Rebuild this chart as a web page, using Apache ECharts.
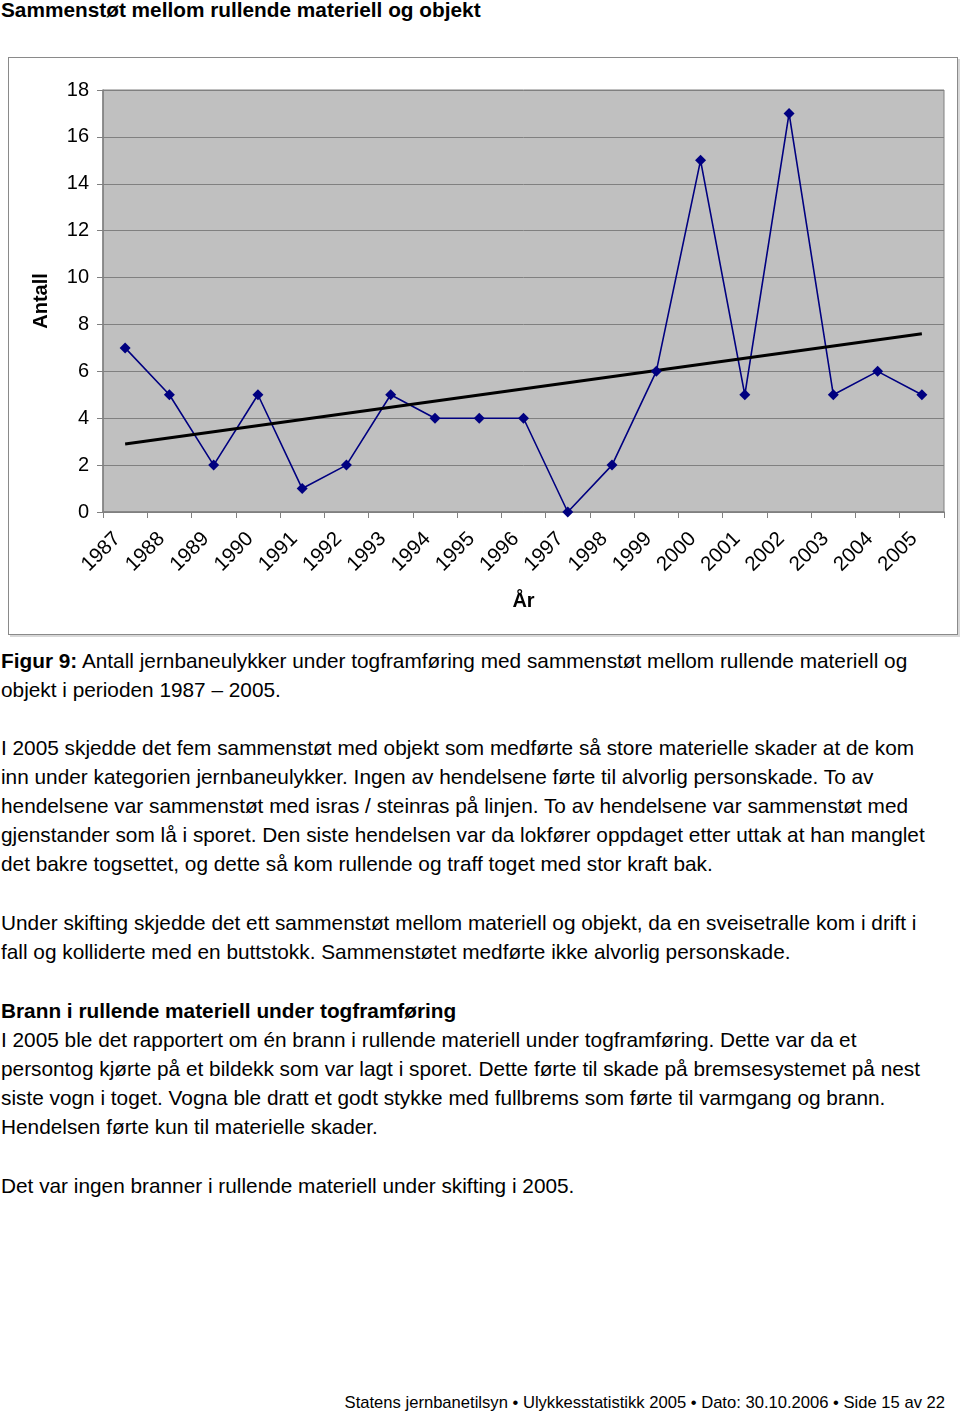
<!DOCTYPE html>
<html>
<head>
<meta charset="utf-8">
<script src="https://cdn.jsdelivr.net/npm/echarts@6/dist/echarts.min.js"></script>
<style>
  body { margin: 0; width: 960px; height: 1416px; background: #fff; font-family: "Liberation Sans", Arial, sans-serif; color: #000; position: relative; }
  .t { position: absolute; left: 1px; font-size: 20.8px; line-height: 29px; white-space: nowrap; }
  #title { top: -5px; font-weight: bold; }
  #chartbox { position: absolute; left: 8px; top: 57px; width: 948px; height: 576px; border: 1px solid #8a8a8a; box-shadow: 2px 2px 0 #d8d8d8; }
  #main { width: 948px; height: 576px; }
  #footer { position: absolute; right: 15px; top: 1393px; font-size: 16.6px; white-space: nowrap; }
</style>
</head>
<body>
<div class="t" id="title">Sammenstøt mellom rullende materiell og objekt</div>
<div id="chartbox"><div id="main"></div></div>

<div class="t" style="top:646px"><b>Figur 9:</b> Antall jernbaneulykker under togframføring med sammenstøt mellom rullende materiell og<br>objekt i perioden 1987 – 2005.</div>

<div class="t" style="top:733px">I 2005 skjedde det fem sammenstøt med objekt som medførte så store materielle skader at de kom<br>inn under kategorien jernbaneulykker. Ingen av hendelsene førte til alvorlig personskade. To av<br>hendelsene var sammenstøt med isras / steinras på linjen. To av hendelsene var sammenstøt med<br>gjenstander som lå i sporet. Den siste hendelsen var da lokfører oppdaget etter uttak at han manglet<br>det bakre togsettet, og dette så kom rullende og traff toget med stor kraft bak.</div>

<div class="t" style="top:908px">Under skifting skjedde det ett sammenstøt mellom materiell og objekt, da en sveisetralle kom i drift i<br>fall og kolliderte med en buttstokk. Sammenstøtet medførte ikke alvorlig personskade.</div>

<div class="t" style="top:996px"><b>Brann i rullende materiell under togframføring</b><br>I 2005 ble det rapportert om én brann i rullende materiell under togframføring. Dette var da et<br>persontog kjørte på et bildekk som var lagt i sporet. Dette førte til skade på bremsesystemet på nest<br>siste vogn i toget. Vogna ble dratt et godt stykke med fullbrems som førte til varmgang og brann.<br>Hendelsen førte kun til materielle skader.</div>

<div class="t" style="top:1171px">Det var ingen branner i rullende materiell under skifting i 2005.</div>

<div id="footer">Statens jernbanetilsyn • Ulykkesstatistikk 2005 • Dato: 30.10.2006 • Side 15 av 22</div>

<script>
var years = ['1987','1988','1989','1990','1991','1992','1993','1994','1995','1996','1997','1998','1999','2000','2001','2002','2003','2004','2005'];
var antall = [7, 5, 2, 5, 1, 2, 5, 4, 4, 4, 0, 2, 6, 15, 5, 17, 5, 6, 5];
// trendline end values
var trendStart = 2.9;
var trendEnd = 7.6;

var trend = years.map(function (y, i) {
  if (i === 0) return trendStart;
  if (i === years.length - 1) return trendEnd;
  return null;
});

var chart = echarts.init(document.getElementById('main'));
var font = '"Liberation Sans", Arial, sans-serif';
chart.setOption({
  animation: false,
  grid: {
    left: 94, top: 32, width: 841, height: 422,
    show: true, backgroundColor: '#c0c0c0', borderColor: '#808080', borderWidth: 1
  },
  xAxis: {
    type: 'category',
    data: years,
    boundaryGap: true,
    name: 'År',
    nameLocation: 'middle',
    nameGap: 79,
    nameTextStyle: { fontFamily: font, fontSize: 20, fontWeight: 'bold', color: '#000' },
    axisLine: { lineStyle: { color: '#808080', width: 1.5 } },
    axisTick: { show: true, length: 6, lineStyle: { color: '#808080' } },
    axisLabel: { rotate: 45, interval: 0, margin: 16, padding: [0, 11, 0, 0], fontFamily: font, fontSize: 20.5, color: '#000' }
  },
  yAxis: {
    type: 'value',
    min: 0, max: 18, interval: 2,
    name: 'Antall',
    nameLocation: 'middle',
    nameGap: 52,
    nameTextStyle: { fontFamily: font, fontSize: 20, fontWeight: 'bold', color: '#000' },
    axisLine: { show: true, lineStyle: { color: '#808080', width: 1.5 } },
    axisTick: { show: true, length: 6, lineStyle: { color: '#808080' } },
    axisLabel: { margin: 14, fontFamily: font, fontSize: 20, color: '#000' },
    splitLine: { lineStyle: { color: '#808080', width: 1 } }
  },
  series: [
    {
      name: 'Antall',
      type: 'line',
      data: antall,
      symbol: 'diamond',
      symbolSize: 11,
      lineStyle: { color: '#000080', width: 1.6 },
      itemStyle: { color: '#000080' }
    },
    {
      name: 'Trend',
      type: 'line',
      data: trend,
      connectNulls: true,
      showSymbol: false,
      symbol: 'none',
      lineStyle: { color: '#000', width: 3 }
    }
  ]
});
</script>
</body>
</html>
